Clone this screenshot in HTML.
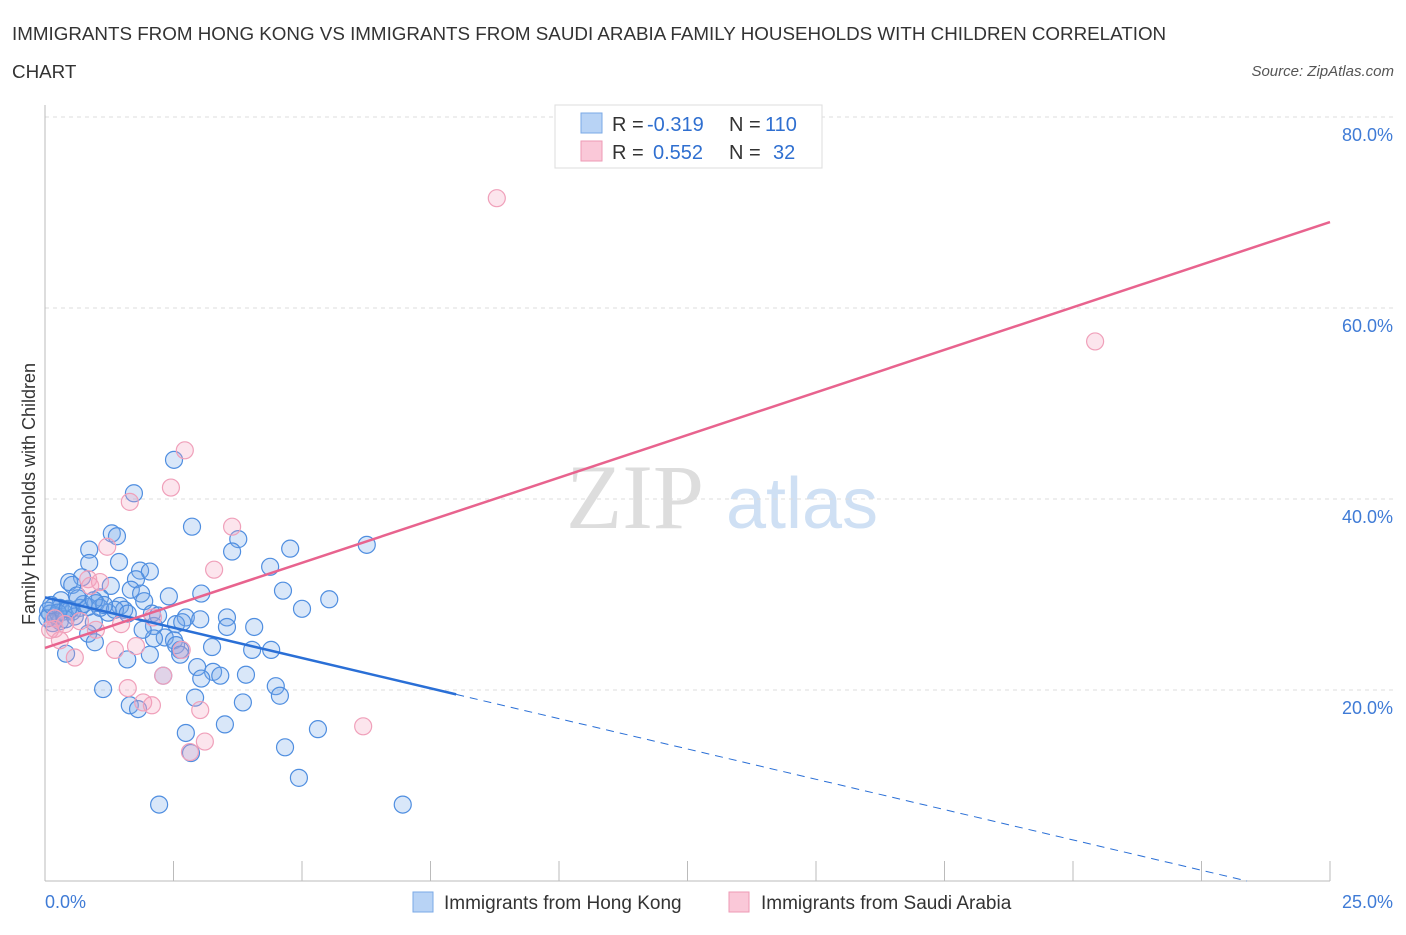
<!DOCTYPE html>
<html><head><meta charset="utf-8"><style>
body{margin:0;background:#fff;font-family:"Liberation Sans",sans-serif;}
#wrap{position:relative;width:1406px;height:930px;}
</style></head><body>
<div id="wrap">
<svg id="svg" width="1406" height="930" xmlns="http://www.w3.org/2000/svg">
<text x="12" y="40" font-size="18.8" fill="#333">IMMIGRANTS FROM HONG KONG VS IMMIGRANTS FROM SAUDI ARABIA FAMILY HOUSEHOLDS WITH CHILDREN CORRELATION</text>
<text x="12" y="78" font-size="18.8" fill="#333">CHART</text>
<text x="1394" y="76" font-size="15" fill="#555" font-style="italic" text-anchor="end">Source: ZipAtlas.com</text>
<text x="35" y="494" font-size="18" fill="#333" text-anchor="middle" transform="rotate(-90 35 494)">Family Households with Children</text>
<g><text x="635" y="528" font-size="92" fill="#ddd" font-family="Liberation Serif" text-anchor="middle">ZIP</text><text x="802" y="528" font-size="72" fill="#cfe0f4" text-anchor="middle">atlas</text></g>
<g id="grid"></g><g id="axes"></g><g id="pts"></g><g id="lines"></g>
<g>
<rect x="555" y="105" width="267" height="63" fill="#fff" stroke="#ddd"/>
<rect x="581" y="113" width="21" height="20" fill="#b8d3f5" stroke="#7aa8e6"/>
<rect x="581" y="141" width="21" height="20" fill="#fac8d8" stroke="#ee9ab5"/>
<text x="612" y="131" font-size="20" fill="#333">R =</text>
<text x="647" y="131" font-size="20" fill="#2f6fd0">-0.319</text>
<text x="729" y="131" font-size="20" fill="#333">N =</text>
<text x="765" y="131" font-size="20" fill="#2f6fd0">110</text>
<text x="612" y="159" font-size="20" fill="#333">R =</text>
<text x="653" y="159" font-size="20" fill="#2f6fd0">0.552</text>
<text x="729" y="159" font-size="20" fill="#333">N =</text>
<text x="773" y="159" font-size="20" fill="#2f6fd0">32</text>
</g>
<g>
<rect x="413" y="892" width="20" height="20" fill="#b8d3f5" stroke="#7aa8e6"/>
<text x="444" y="909" font-size="19" fill="#333">Immigrants from Hong Kong</text>
<rect x="729" y="892" width="20" height="20" fill="#fac8d8" stroke="#ee9ab5"/>
<text x="761" y="909" font-size="19" fill="#333">Immigrants from Saudi Arabia</text>
</g>
<text x="45" y="908" font-size="18" fill="#3f7bd6">0.0%</text>
<text x="1393" y="908" font-size="18" fill="#3f7bd6" text-anchor="end">25.0%</text>
</svg></div>
<script>
const yTicks=[20,40,60,80];
const yTickLabels=["20.0%","40.0%","60.0%","80.0%"];
const xTicks=[0,2.5,5,7.5,10,12.5,15,17.5,20,22.5,25];
const blueX=[2.51,1.73,2.86,1.30,1.40,3.76,6.26,0.86,3.64,4.77,1.44,0.86,4.38,1.85,2.04,1.77,0.72,0.47,1.28,0.53,4.63,1.67,1.87,1.07,2.41,3.04,5.53,1.93,0.64,0.31,0.99,5.0,1.46,0.16,0.29,2.08,0.53,1.23,1.54,2.74,3.02,3.54,3.54,2.55,2.67,0.95,2.12,4.07,0.19,0.06,2.33,2.51,0.84,2.12,2.55,2.63,4.03,4.40,3.25,0.97,0.41,2.04,1.60,2.63,2.96,3.27,3.91,3.41,3.04,2.30,1.13,4.49,4.57,2.92,3.85,1.65,1.81,3.50,5.31,2.74,4.67,2.84,4.94,2.22,6.96,0.10,0.21,0.35,0.49,0.68,0.84,1.07,1.36,1.61,0.29,0.58,0.15,0.40,0.75,1.15,0.25,0.05,0.45,1.90,2.20,0.62,0.95,0.12];
const blueY=[44.1,40.6,37.1,36.4,36.1,35.8,35.2,34.7,34.5,34.8,33.4,33.3,32.9,32.5,32.4,31.6,31.8,31.3,30.9,31.0,30.4,30.5,30.1,29.7,29.8,30.1,29.5,29.3,29.6,29.4,29.1,28.5,28.8,28.7,28.6,28.0,28.2,28.1,28.4,27.6,27.4,27.6,26.6,26.9,27.1,27.1,26.7,26.6,27.5,28.3,25.5,25.2,25.9,25.4,24.7,24.2,24.2,24.2,24.5,25.0,23.8,23.7,23.2,23.7,22.4,21.9,21.6,21.5,21.2,21.5,20.1,20.4,19.4,19.2,18.7,18.4,18.0,16.4,15.9,15.5,14.0,13.4,10.8,8.0,8.0,28.0,27.8,28.2,28.4,28.6,28.7,28.6,28.4,28.0,27.2,27.7,27.0,27.4,29.0,28.9,28.1,27.5,28.5,26.3,27.8,29.9,29.4,28.9];
const pinkX=[8.79,20.43,2.72,2.45,1.65,3.64,3.29,1.21,0.84,1.07,0.88,2.10,1.48,0.68,0.19,0.10,0.29,0.58,1.36,1.77,2.66,2.30,1.61,1.91,2.08,3.02,6.19,3.11,2.82,0.99,0.19,0.39];
const pinkY=[71.5,56.5,45.1,41.2,39.7,37.1,32.6,35.0,31.6,31.3,30.9,27.6,26.9,27.2,27.5,26.3,25.2,23.4,24.2,24.6,24.2,21.5,20.2,18.7,18.4,17.9,16.2,14.6,13.5,26.3,26.4,26.9];
const blueLine=[29.7,-1.27]; // intercept, slope per %
const pinkLine=[24.4,1.784];
const X0=45,X1=1330,Y0=881,YPER=9.55;
const sx=v=>X0+(X1-X0)*v/25, sy=v=>Y0-v*YPER;
const NS="http://www.w3.org/2000/svg";
function mk(t,a,p){const e=document.createElementNS(NS,t);for(const k in a)e.setAttribute(k,a[k]);p.appendChild(e);return e;}
const grid=document.getElementById('grid'),axes=document.getElementById('axes'),pts=document.getElementById('pts'),lines=document.getElementById('lines');
yTicks.forEach((v,i)=>{
 const g=mk('line',{x1:X0,x2:1395,y1:sy(v),y2:sy(v),stroke:'#ddd','stroke-dasharray':'4,4'},grid);
 
 
 const t=mk('text',{x:1393,y:sy(v)+24,'font-size':18,fill:'#3f7bd6','text-anchor':'end'},axes);
 t.textContent=yTickLabels[i];
 
 
});
const ya=mk('line',{x1:X0,x2:X0,y1:105,y2:Y0,stroke:'#bbb'},axes);


const xa=mk('line',{x1:X0,x2:X1,y1:Y0,y2:Y0,stroke:'#bbb'},axes);


xTicks.forEach(v=>{
 const t=mk('line',{x1:sx(v),x2:sx(v),y1:Y0,y2:Y0-(v==0?0:20),stroke:'#bbb'},axes);
 
 
});
blueX.forEach((x,i)=>{
 const c=mk('circle',{cx:sx(x),cy:sy(blueY[i]),r:8.5,fill:'rgba(120,168,235,0.28)',stroke:'#4f8ee0','stroke-width':1.2},pts);
 
 
});
pinkX.forEach((x,i)=>{
 const c=mk('circle',{cx:sx(x),cy:sy(pinkY[i]),r:8.5,fill:'rgba(245,160,190,0.28)',stroke:'#f0a0ba','stroke-width':1.2},pts);
 
 
});
const bf=x=>blueLine[0]+blueLine[1]*x, pf=x=>pinkLine[0]+pinkLine[1]*x;
const b1=mk('line',{x1:sx(0),y1:sy(bf(0)),x2:sx(8),y2:sy(bf(8)),stroke:'#2a6fd6','stroke-width':2.5},lines);


const xe=-blueLine[0]/blueLine[1];
const b2=mk('line',{x1:sx(8),y1:sy(bf(8)),x2:sx(xe),y2:sy(0),stroke:'#2a6fd6','stroke-width':1,'stroke-dasharray':'8,6'},lines);


const p1=mk('line',{x1:sx(0),y1:sy(pf(0)),x2:sx(25),y2:sy(pf(25)),stroke:'#e8638e','stroke-width':2.5},lines);


</script>
</body></html>
